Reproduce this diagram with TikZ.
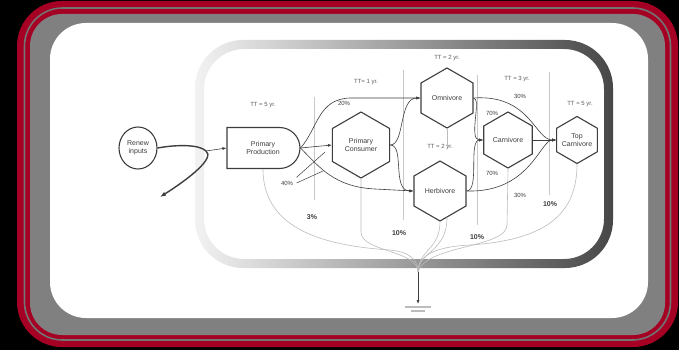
\documentclass[tikz,border=0pt]{standalone}
\usepackage{fontspec}
\setmainfont{Liberation Sans}
\usepackage{tikz}
\usetikzlibrary{arrows.meta,positioning,shapes.geometric,shapes.misc}
\definecolor{framered}{RGB}{165,0,36}
\definecolor{framegray}{RGB}{128,128,128}
\definecolor{ink}{RGB}{62,62,62}
\definecolor{loss}{RGB}{188,188,188}

\begin{document}
\begin{tikzpicture}[
  x=1pt,y=-1pt,
  every node/.style={font=\fontsize{7}{7.5}\selectfont,text=ink},
  hexa/.style={draw=ink,line width=1.1pt,fill=white,regular polygon,regular polygon sides=6,shape border rotate=30,inner sep=0pt},
  hexlbl/.style={align=center,font=\fontsize{7}{7.5}\selectfont,text=ink},
  prodbox/.style={draw=ink,line width=1.1pt,fill=white,rounded rectangle,rounded rectangle west arc=none,align=center,minimum width=73pt,minimum height=41pt,inner sep=0pt},
  tt/.style={font=\fontsize{6}{6}\selectfont,text=ink!85},
  pct/.style={font=\fontsize{6}{6}\selectfont},
  bpct/.style={font=\fontsize{7}{7}\selectfont\bfseries},
  arr/.style={-{Latex[length=4pt,width=3pt]},draw=ink,line width=0.6pt},
  flow/.style={draw=loss,line width=0.6pt},
  sep/.style={draw=loss!80,line width=0.5pt}
]
% slide frame
\fill[black] (0,0) rectangle (679,350);
\fill[framered,rounded corners=45pt] (17,1) rectangle (678,347);
\draw[framegray!110,line width=1.6pt,rounded corners=38pt] (24.5,8) rectangle (670.5,340);
\fill[framegray,rounded corners=32pt] (30,14) rectangle (665,335);
\fill[white,rounded corners=36pt] (50,23) rectangle (648,318);
% picture border
\shade[left color=black!5,right color=black!72,even odd rule,rounded corners=48pt]
  (195,40) rectangle (613,268) [rounded corners=40pt] (204,49) rectangle (604,259);

% turnover time bands
\draw[sep] (314,97) -- (314,200);
\draw[sep] (403,70) -- (403,220);
\draw[sep] (477,75) -- (477,225);
\draw[sep] (549,72) -- (549,195);

\node[ellipse,draw=ink,line width=1.1pt,minimum width=38pt,minimum height=42pt,align=center,inner sep=0pt] (renew) at (138,148) {Renew\\inputs};
\node[prodbox] (prod) at (263,148) {Primary\\Production};
\node[hexa,minimum size=66pt,label={[hexlbl]center:Primary\\Consumer}] (cons) at (361,145) {};
\node[hexa,minimum size=60pt,label={[hexlbl]center:Omnivore}] (omni) at (447,98) {};
\node[hexa,minimum size=60pt,label={[hexlbl]center:Herbivore}] (herb) at (440,191) {};
\node[hexa,minimum size=56pt,label={[hexlbl]center:Carnivore}] (carn) at (508,140) {};
\node[hexa,minimum size=47pt,label={[hexlbl]center:Top\\Carnivore}] (top) at (577,140) {};

\node[tt,above=16pt of prod] (ttprod) {TT = 5 yr.};
\node[tt,above=23pt of cons,xshift=5pt] (ttcons) {TT= 1 yr.};
\node[tt,above=3pt of omni] (ttomni) {TT = 2 yr.};
\node[tt,above=7pt of herb] (ttherb) {TT = 2 yr.};
\node[tt,above=26pt of carn,xshift=9pt] (ttcarn) {TT = 3 yr.};
\node[tt,above=6pt of top,xshift=3pt] (tttop) {TT = 5 yr.};

\coordinate (split) at (206,151);
\coordinate (leak) at (160,197);
\coordinate (sink) at (418,272);
\coordinate (gnd) at (418,304);

% losses to the heat sink
\draw[flow] (prod.south) .. controls (263,232) and (330,246) .. (390,250) .. controls (410,252) and (418,260) .. (sink);
\draw[flow] (cons.south) -- (361,232) .. controls (361,252) and (418,250) .. (sink);
\draw[flow] (omni.south) -- ++(0,18);
\draw[flow] (herb.south) .. controls (440,250) and (418,250) .. (sink);
\draw[flow] ([xshift=7pt,yshift=4pt]herb.south) .. controls (447,252) and (418,252) .. (sink);
\draw[flow] (carn.south) -- (507,225) .. controls (507,248) and (425,245) .. (sink);
\draw[flow] (top.south) .. controls (577,215) and (545,240) .. (470,245) .. controls (430,247) and (418,258) .. (sink);
\draw[arr] (sink) -- (gnd);
\draw[flow,line width=1.8pt] (gnd) ++(-13,3) -- ++(26,0) ++(-20,4) -- ++(14,0);

% energy flows
\draw[draw=ink,line width=1.4pt,-{Latex[length=6pt,width=4.5pt]}] (renew.east) .. controls (180,144) and (200,145) .. (split) .. controls (215,158) and (190,178) .. (leak);
\draw[arr] (split) -- (prod.west);
\draw[arr] (prod.east) -- (cons.west);
\draw[arr] (prod.east) .. controls (318,128) and (318,99) .. (350,98) -- (omni.west);
\draw[arr] (prod.east) .. controls (320,168) and (335,187) .. (375,189) -- (herb.west);
\draw[arr] (cons.east) .. controls +(15,0) and +(-22,0) .. (omni.west);
\draw[arr] (cons.east) .. controls +(15,0) and +(-22,0) .. (herb.west);
\draw[arr] (omni.east) .. controls (482,98) and (468,140) .. (carn.west);
\draw[arr] (herb.east) .. controls (480,191) and (468,140) .. (carn.west);
\draw[arr] (omni.east) .. controls (530,94) and (535,140) .. (top.west);
\draw[arr] (herb.east) .. controls (530,193) and (540,140) .. (top.west);
\draw[arr] (carn.east) -- (top.west);

% shares
\node[pct] (p20) at (344,103) {20\%};
\node[pct] (p40) at (287,183) {40\%};
\coordinate (l1) at (325,152);
\coordinate (l2) at (323,171);
\draw[draw=ink,line width=0.5pt] (p40.north east) -- (l1);
\draw[draw=ink,line width=0.5pt] (p40.east) -- (l2);
\node[pct] (p30a) at (520,96) {30\%};
\node[pct] (p70a) at (492,113) {70\%};
\node[pct] (p70b) at (492,173) {70\%};
\node[pct] (p30b) at (520,195) {30\%};
\node[bpct] (e3) at (312,217) {3\%};
\node[bpct] (e10a) at (399,233) {10\%};
\node[bpct] (e10b) at (477,237) {10\%};
\node[bpct] (e10c) at (550,204) {10\%};
\end{tikzpicture}
\end{document}
